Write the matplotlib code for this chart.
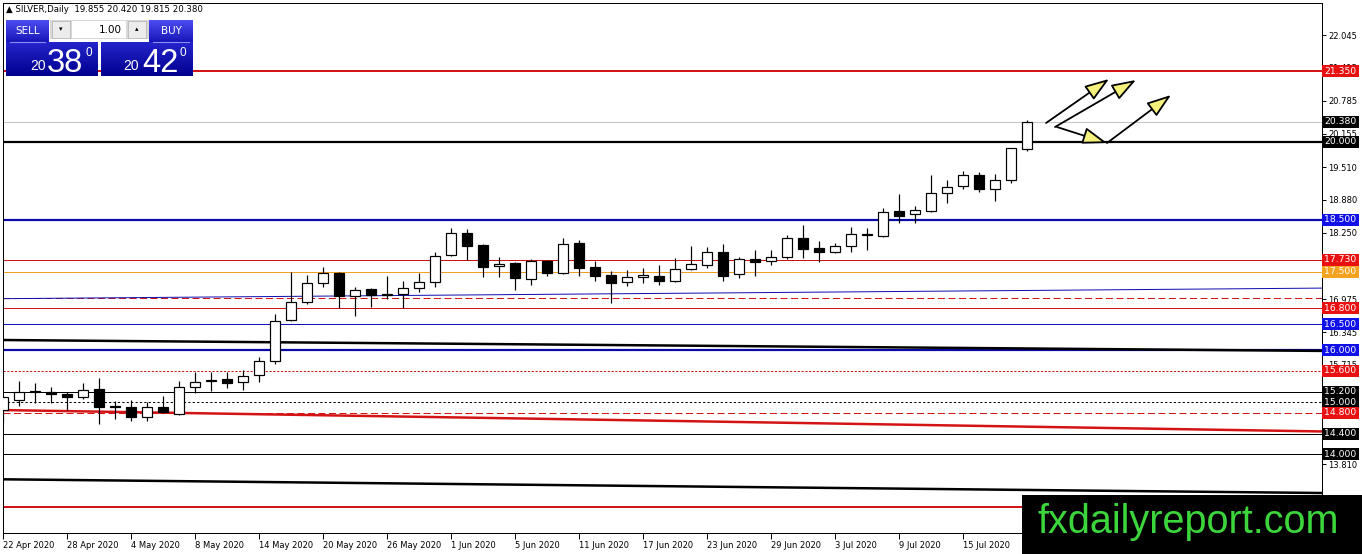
import pandas as pd
import numpy as np
import matplotlib
matplotlib.use('Agg')
import matplotlib.pyplot as plt
from matplotlib.patches import Rectangle
from matplotlib.colors import LinearSegmentedColormap

# daily silver candles, 22 Apr 2020 - 21 Jul 2020
opens = [14.86, 15.04, 15.19, 15.19, 15.15, 15.10, 15.25, 14.92, 14.90, 14.71,
         14.90, 14.77, 15.29, 15.40, 15.44, 15.38, 15.52, 15.80, 16.58, 16.92,
         17.29, 17.48, 17.04, 17.17, 17.06, 17.08, 17.19, 17.31, 17.83, 18.25,
         18.02, 17.62, 17.67, 17.37, 17.71, 17.48, 18.06, 17.60, 17.44, 17.31,
         17.40, 17.42, 17.33, 17.56, 17.63, 17.88, 17.46, 17.75, 17.71, 17.79,
         18.15, 17.96, 17.88, 18.00, 18.21, 18.19, 18.67, 18.62, 18.67, 19.02,
         19.15, 19.35, 19.10, 19.27, 19.855]
highs = [15.12, 15.40, 15.37, 15.29, 15.19, 15.37, 15.46, 15.02, 15.04, 15.00,
         15.12, 15.40, 15.58, 15.58, 15.58, 15.62, 15.87, 16.69, 17.50, 17.44,
         17.60, 17.50, 17.21, 17.19, 17.42, 17.33, 17.48, 17.88, 18.35, 18.33,
         18.04, 17.79, 17.69, 17.75, 17.73, 18.15, 18.12, 17.71, 17.52, 17.54,
         17.58, 17.63, 17.77, 18.00, 17.98, 18.04, 17.79, 17.92, 17.92, 18.21,
         18.40, 18.10, 18.06, 18.37, 18.35, 18.73, 19.00, 18.77, 19.35, 19.27,
         19.44, 19.42, 19.37, 19.88, 20.420]
lows = [14.62, 14.92, 14.98, 14.98, 14.85, 15.06, 14.58, 14.67, 14.65, 14.65,
        14.79, 14.75, 15.17, 15.21, 15.27, 15.23, 15.38, 15.73, 16.55, 16.88,
        17.21, 16.81, 16.65, 16.83, 16.98, 16.81, 17.12, 17.21, 17.80, 17.73,
        17.40, 17.40, 17.15, 17.25, 17.42, 17.46, 17.42, 17.33, 16.90, 17.23,
        17.29, 17.25, 17.31, 17.54, 17.58, 17.33, 17.38, 17.42, 17.63, 17.75,
        17.77, 17.69, 17.87, 17.88, 17.92, 18.17, 18.44, 18.44, 18.65, 18.83,
        19.10, 19.04, 18.87, 19.21, 19.815]
closes = [15.10, 15.19, 15.20, 15.15, 15.10, 15.23, 14.90, 14.90, 14.71, 14.90,
          14.81, 15.29, 15.38, 15.41, 15.37, 15.50, 15.79, 16.56, 16.92, 17.29,
          17.48, 17.04, 17.15, 17.06, 17.08, 17.19, 17.31, 17.81, 18.25, 18.00,
          17.60, 17.65, 17.38, 17.71, 17.48, 18.04, 17.58, 17.42, 17.29, 17.40,
          17.44, 17.33, 17.56, 17.65, 17.88, 17.42, 17.75, 17.69, 17.79, 18.15,
          17.94, 17.88, 18.00, 18.23, 18.23, 18.65, 18.58, 18.69, 19.02, 19.13,
          19.35, 19.10, 19.27, 19.87, 20.380]
dates = pd.bdate_range('2020-04-22', periods=len(opens))

# price scale ticks on the right (some labels sit under the price tags)
price_ticks = [22.045, 21.415, 20.785, 20.155, 19.510, 18.880, 18.250, 17.620,
               16.975, 16.345, 15.715, 15.080, 14.450, 13.810, 13.180]
hidden_ticks = [17.620, 15.080, 14.450, 13.180]

# horizontal levels: price, colour, width(px), style, tag colour
levels = [
    (21.350, '#d41414', 2.0, '-', '#e81010'),
    (20.380, '#c4c4c4', 1.0, '-', 'black'),
    (20.000, 'black', 2.2, '-', 'black'),
    (18.500, '#0a0aa8', 2.2, '-', '#1010e8'),
    (17.730, '#c81414', 1.0, '-', '#e81010'),
    (17.500, '#f0a020', 1.0, '-', '#f5a21e'),
    (17.000, '#d41414', 1.0, (0, (7, 3.5)), None),
    (16.800, '#d41414', 1.0, '-', '#e81010'),
    (16.500, '#1010c0', 1.0, '-', '#1010e8'),
    (16.000, '#0a0aa8', 2.2, '-', '#1010e8'),
    (15.600, '#c81414', 1.0, (0, (2.2, 1.6)), '#e81010'),
    (15.200, 'black', 1.0, '-', 'black'),
    (15.000, 'black', 1.0, (0, (2.2, 2.2)), 'black'),
    (14.800, '#d41414', 1.0, (0, (7, 3.5)), '#e81010'),
    (14.400, 'black', 1.0, '-', 'black'),
    (14.000, 'black', 1.0, '-', 'black'),
    (13.000, '#d41414', 2.0, '-', None),
]

# sloping trend lines: price at left edge, price at right edge
trend_left = [16.194, 14.850, 13.522, 16.987]
trend_right = [15.985, 14.440, 13.259, 17.190]
trend_colors = ['black', '#d41414', 'black', '#1010b0']
trend_widths = [2.5, 2.5, 2.5, 1.0]

# hand-drawn arrows (bar index, price)
arrow_from = [(65.19, 20.357), (65.75, 20.280), (65.875, 20.280), (69.0, 19.973)]
arrow_to = [(69.125, 21.201), (70.81, 21.182), (69.0, 19.973), (73.0, 20.894)]

W, H = 1362, 554
PX = 0.72  # one pixel in points
fig = plt.figure(figsize=(W / 100, H / 100), dpi=100)
fig.patch.set_facecolor('white')
ax = fig.add_axes([3 / W, (H - 533) / H, 1319 / W, 530 / H])

x_right = 1319 / 16
ax.set_xlim(0, x_right)
ax.set_ylim(12.492, 22.659)

for p, col, lw, ls, tag in levels:
    ax.axhline(p, color=col, lw=lw * PX, ls=ls, zorder=1)

for y0, y1, col, lw in zip(trend_left, trend_right, trend_colors, trend_widths):
    ax.plot([0, x_right], [y0, y1], color=col, lw=lw * PX, zorder=1,
            solid_capstyle='butt')

# candles
idx = np.arange(len(opens))
ax.vlines(idx, lows, highs, color='black', lw=1.2 * PX, zorder=2)
for i, (o, c) in enumerate(zip(opens, closes)):
    up = c >= o
    bottom = min(o, c)
    height = max(abs(c - o), 0.02)
    ax.add_patch(Rectangle((i - 0.31, bottom), 0.62, height,
                           facecolor='white' if up else 'black',
                           edgecolor='black', lw=1.2 * PX, zorder=3))

# arrows
for a, b in zip(arrow_from, arrow_to):
    ax.annotate('', xy=b, xytext=a, annotation_clip=False,
                arrowprops=dict(arrowstyle='-|>,head_length=0.75,head_width=0.26',
                                mutation_scale=20, fc='#f6f07c', ec='black',
                                lw=1.8 * PX, shrinkA=0, shrinkB=0), zorder=4)

# axes styling
for s in ax.spines.values():
    s.set_linewidth(1.0 * PX)
ax.yaxis.tick_right()
ax.set_yticks(price_ticks)
ax.set_yticklabels(['' if t in hidden_ticks else f'{t:.3f}' for t in price_ticks])
ax.tick_params(axis='y', labelsize=6, length=3, width=0.7, pad=1.5)

xt = list(range(0, len(opens), 4))
ax.set_xticks(xt)
ax.set_xticklabels([f'{dates[i].day} {dates[i]:%b %Y}' for i in xt], ha='left')
ax.tick_params(axis='x', labelsize=6, length=4, width=0.7, pad=2)

# price tags on the right scale
tr = ax.get_yaxis_transform()
tag_w = 37 / 1319
tag_h = 12 / 52.13
for p, col, lw, ls, tag in levels:
    if tag is None:
        continue
    ax.add_patch(Rectangle((1.0, p - tag_h / 2), tag_w, tag_h, transform=tr,
                           facecolor=tag, edgecolor='none', clip_on=False, zorder=6))
    ax.text(1.0 + 2 / 1319, p, f'{p:.3f}', transform=tr, color='white', fontsize=6.7,
            va='center', ha='left', clip_on=False, zorder=7)

# overlay in pixel coordinates for the trade panel and watermark
ov = fig.add_axes([0, 0, 1, 1], zorder=10)
ov.patch.set_alpha(0)
ov.axis('off')


def grad_box(x0, y0, x1, y1, top, bot):
    cmap = LinearSegmentedColormap.from_list('g', [top, bot])
    g = np.linspace(0, 1, 40).reshape(-1, 1)
    ov.imshow(g, cmap=cmap, extent=(x0, x1, y1, y0), aspect='auto',
              interpolation='bilinear', zorder=2)


ov.text(6, 9, '\u25b2 SILVER,Daily  19.855 20.420 19.815 20.380', fontsize=6.2,
        va='center', ha='left')

grad_box(6, 20, 49, 42, '#4c4cf2', '#1616b8')
grad_box(149, 20, 193, 42, '#4c4cf2', '#1616b8')
grad_box(6, 42, 98, 76, '#2424cc', '#00008e')
grad_box(101, 42, 193, 76, '#2424cc', '#00008e')
ov.plot([10, 45], [41.5, 41.5], color='#8c8cff', lw=0.8, zorder=3)
ov.plot([153, 189], [41.5, 41.5], color='#8c8cff', lw=0.8, zorder=3)
ov.add_patch(Rectangle((50, 20), 99, 19, facecolor='#d8d8d8', edgecolor='none', zorder=2))
ov.add_patch(Rectangle((52, 21), 18, 17, facecolor='#ececec', edgecolor='#b0b0b0', lw=0.5, zorder=3))
ov.add_patch(Rectangle((72, 21), 54, 17, facecolor='white', edgecolor='none', zorder=3))
ov.add_patch(Rectangle((128, 21), 18, 17, facecolor='#ececec', edgecolor='#b0b0b0', lw=0.5, zorder=3))
ov.text(61, 29.5, '\u25be', fontsize=5, ha='center', va='center', zorder=4)
ov.text(137, 29.5, '\u25b4', fontsize=5, ha='center', va='center', zorder=4)
ov.text(122, 30, '1.00', fontsize=7.5, ha='right', va='center', zorder=4)
ov.text(27.5, 31, 'SELL', fontsize=7.5, color='white', ha='center', va='center', zorder=4)
ov.text(171, 31, 'BUY', fontsize=7.5, color='white', ha='center', va='center', zorder=4)

for x20, xbig, xsup, big in [(30, 47, 85, '38'), (123, 142, 180, '42')]:
    ov.text(x20, 70, '20', fontsize=10, color='white', family='Liberation Sans',
            ha='left', va='baseline', zorder=4)
    ov.text(xbig, 72.5, big, fontsize=23.5, color='white', family='Liberation Sans',
            ha='left', va='baseline', zorder=4)
    ov.text(xsup, 55.5, '0', fontsize=8.5, color='white', family='Liberation Sans',
            ha='left', va='baseline', zorder=4)

# watermark
ov.add_patch(Rectangle((1022, 495), 340, 59, facecolor='black', edgecolor='none', zorder=5))
ov.text(1038, 533, 'fxdailyreport.com', fontsize=28.5, color='#3cd63c',
        family='Liberation Sans', ha='left', va='baseline', zorder=6)

ov.set_xlim(0, W)
ov.set_ylim(H, 0)

fig.savefig('out.png', dpi=100, facecolor='white')
